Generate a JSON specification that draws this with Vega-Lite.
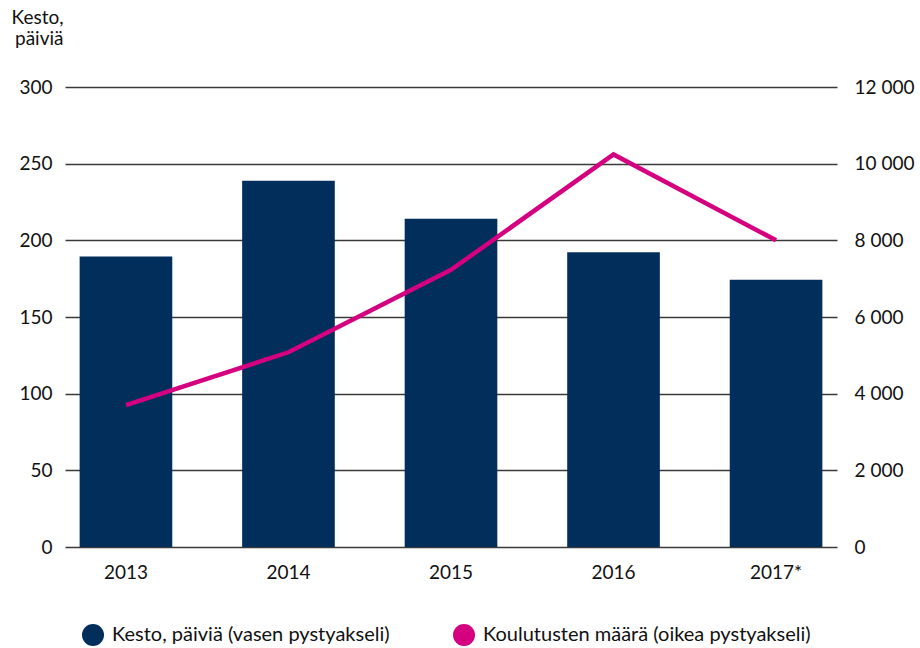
{
  "$schema": "https://vega.github.io/schema/vega-lite/v6.json",
  "width": 772,
  "height": 460,
  "autosize": "none",
  "padding": {"left": 65, "top": 87, "right": 83, "bottom": 101},
  "background": "white",
  "config": {
    "font": "Lato",
    "view": {"stroke": null},
    "axis": {"labelFont": "Lato", "labelFontSize": 19, "labelColor": "#111", "titleFont": "Lato"},
    "legend": {"labelFont": "Lato"}
  },
  "data": {
    "values": [
      {"vuosi": "2013", "kesto": 189.5, "koulutukset": 3700},
      {"vuosi": "2014", "kesto": 238.9, "koulutukset": 5080},
      {"vuosi": "2015", "kesto": 214.1, "koulutukset": 7230},
      {"vuosi": "2016", "kesto": 192.3, "koulutukset": 10240},
      {"vuosi": "2017*", "kesto": 174.3, "koulutukset": 8000}
    ]
  },
  "encoding": {
    "x": {
      "field": "vuosi",
      "type": "nominal",
      "sort": null,
      "scale": {"paddingInner": 0.43, "paddingOuter": 0.09},
      "axis": {"title": null, "labelAngle": 0, "domain": false, "ticks": false, "labelPadding": 16, "labelFontSize": 19}
    }
  },
  "layer": [
    {
      "mark": {"type": "bar", "color": "#022e5b"},
      "encoding": {
        "y": {
          "field": "kesto",
          "type": "quantitative",
          "scale": {"domain": [0, 300], "nice": false},
          "axis": {
            "values": [0, 50, 100, 150, 200, 250, 300],
            "grid": true,
            "gridColor": "#3a3a3a",
            "gridWidth": 1.5,
            "domain": false,
            "ticks": false,
            "labelPadding": 13,
            "title": ["Kesto,", "päiviä"],
            "titleAngle": 0,
            "titleAlign": "right",
            "titleBaseline": "alphabetic",
            "titleX": -2,
            "titleY": -64,
            "titleFontSize": 19,
            "titleFontWeight": "normal",
            "titleColor": "#111",
            "titleLineHeight": 21,
            "zindex": 0
          }
        },
        "color": {
          "datum": "Kesto, päiviä (vasen pystyakseli)",
          "type": "nominal",
          "scale": {
            "domain": ["Kesto, päiviä (vasen pystyakseli)", "Koulutusten määrä (oikea pystyakseli)"],
            "range": ["#022e5b", "#d4007f"]
          },
          "legend": {
            "title": null,
            "orient": "none",
            "legendX": 17,
            "legendY": 537,
            "direction": "horizontal",
            "columns": 2,
            "columnPadding": 63,
            "symbolType": "circle",
            "symbolSize": 484,
            "symbolStrokeWidth": 0,
            "labelFontSize": 20,
            "labelColor": "#111",
            "labelOffset": 8,
            "labelLimit": 500,
            "padding": 0,
            "encode": {
              "symbols": {
                "update": {
                  "fill": {"scale": "color", "field": "value"},
                  "stroke": {"value": "transparent"},
                  "opacity": {"value": 1}
                }
              }
            }
          }
        }
      }
    },
    {
      "mark": {"type": "line", "strokeWidth": 4.5, "color": "#d4007f"},
      "encoding": {
        "y": {
          "field": "koulutukset",
          "type": "quantitative",
          "scale": {"domain": [0, 12000], "nice": false},
          "axis": {
            "orient": "right",
            "values": [0, 2000, 4000, 6000, 8000, 10000, 12000],
            "labelExpr": "replace(format(datum.value, ','), ',', ' ')",
            "grid": false,
            "domain": false,
            "ticks": false,
            "labelPadding": 17,
            "title": null
          }
        },
        "color": {"datum": "Koulutusten määrä (oikea pystyakseli)", "type": "nominal"}
      }
    }
  ],
  "resolve": {"scale": {"y": "independent"}}
}
